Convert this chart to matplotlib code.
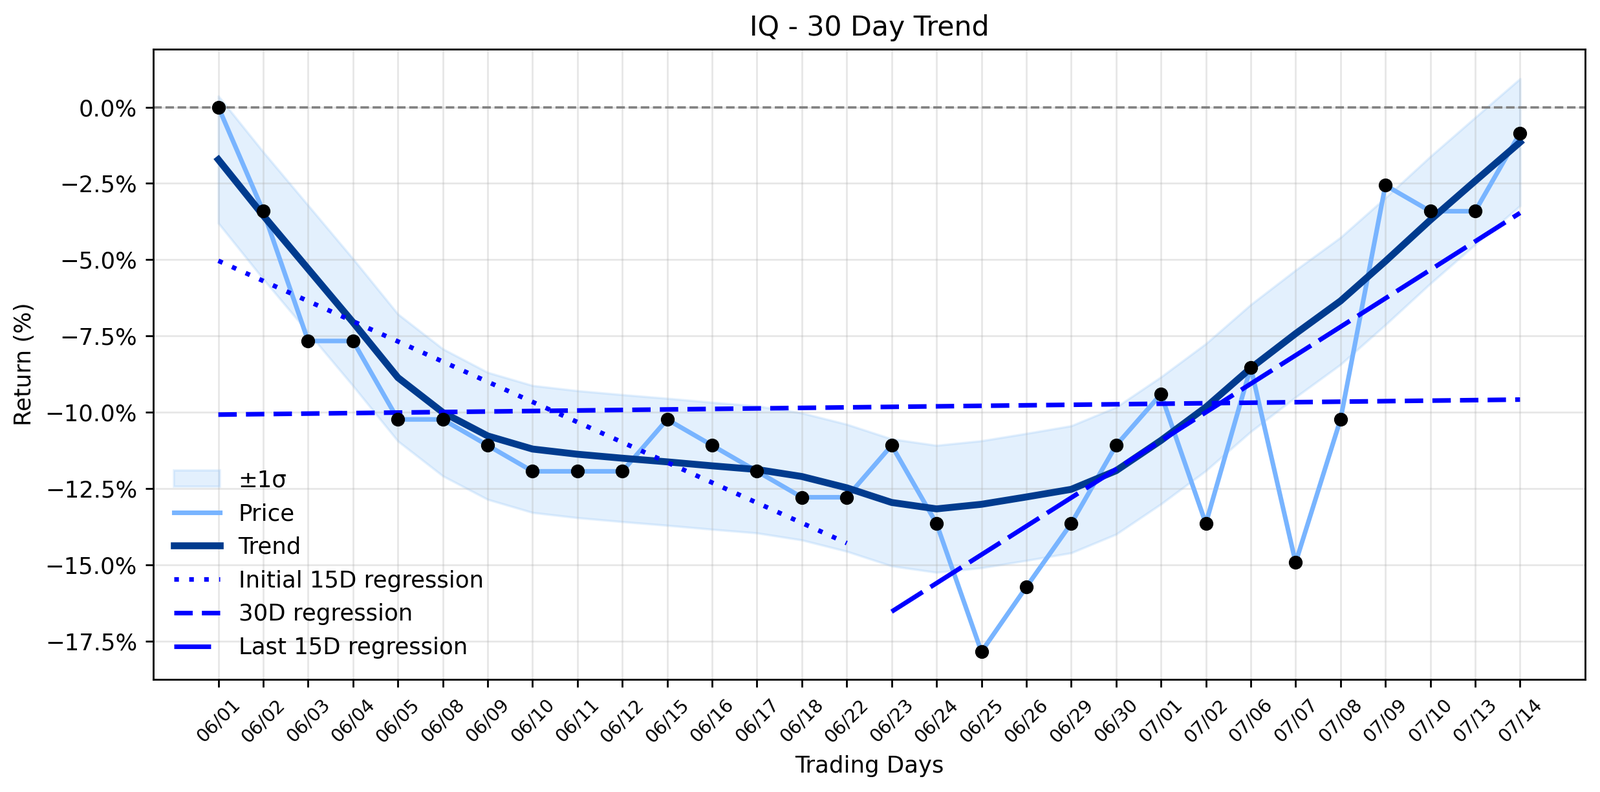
"""IQ - 30 day trend chart: price returns, smoothed trend, +/-1 sigma band
and three linear regressions (first 15 days, all 30 days, last 15 days)."""

import matplotlib
matplotlib.use("Agg")
import matplotlib.pyplot as plt
import numpy as np
from matplotlib.ticker import PercentFormatter

ticker = "IQ"

dates = ["06/01", "06/02", "06/03", "06/04", "06/05", "06/08", "06/09", "06/10",
         "06/11", "06/12", "06/15", "06/16", "06/17", "06/18", "06/22", "06/23",
         "06/24", "06/25", "06/26", "06/29", "06/30", "07/01", "07/02", "07/06",
         "07/07", "07/08", "07/09", "07/10", "07/13", "07/14"]

# cumulative return (%)
price_ret = [0.0, -3.41, -7.66, -7.66, -10.23, -10.23, -11.08, -11.93,
             -11.93, -11.93, -10.23, -11.08, -11.93, -12.78, -12.78, -11.08,
             -13.64, -17.84, -15.72, -13.64, -11.08, -9.40, -13.64, -8.52,
             -14.92, -10.23, -2.56, -3.41, -3.41, -0.85]

# smoothed trend (%)
trend_ret = [-1.72, -3.55, -5.30, -7.05, -8.86, -10.00, -10.77, -11.20,
             -11.37, -11.50, -11.62, -11.75, -11.87, -12.10, -12.47, -12.95,
             -13.16, -13.01, -12.77, -12.52, -11.91, -10.92, -9.83, -8.55,
             -7.42, -6.35, -5.05, -3.70, -2.42, -1.15]

# residual std used for the band (%)
band_sigma = 2.08

DPI = 256


def main():
    x = np.arange(len(dates))
    price = np.array(price_ret)
    trend = np.array(trend_ret)

    fig, ax = plt.subplots(figsize=(2474 / DPI, 1224 / DPI), dpi=DPI)
    fig.subplots_adjust(left=0.0958, right=0.9907, top=0.938, bottom=0.142)

    ax.fill_between(x, trend - band_sigma, trend + band_sigma,
                    color="#90c4f9", alpha=0.25, linewidth=1, label="±1σ")
    ax.plot(x, price, color="#78b4ff", linewidth=2, label="Price", zorder=3)
    ax.plot(x, trend, color="#003b8e", linewidth=3, label="Trend", zorder=4)
    ax.plot(x, price, "o", color="black", markersize=5, zorder=6)

    # ---- regressions ----
    half = len(x) // 2
    x1, x2 = x[:half], x[half:]
    k, b = np.polyfit(x1, price[:half], 1)
    ax.plot(x1, k * x1 + b, color="blue", linewidth=2,
            linestyle=(0, (1, 2.25)), label="Initial 15D regression", zorder=5)
    k, b = np.polyfit(x, price, 1)
    ax.plot(x, k * x + b, color="blue", linewidth=2,
            linestyle=(0, (4, 2)), label="30D regression", zorder=5)
    k, b = np.polyfit(x2, price[half:], 1)
    ax.plot(x2, k * x2 + b, color="blue", linewidth=2,
            linestyle=(0, (8, 2)), label="Last 15D regression", zorder=5)

    ax.axhline(0, color="gray", linestyle="--", linewidth=1, zorder=2)

    ax.set_xticks(x)
    ax.set_xticklabels(dates, rotation=45, fontsize=8)
    ax.set_xlim(-1.45, len(x) - 1 + 1.45)
    ax.set_ylim(-18.75, 1.9)
    ax.yaxis.set_major_formatter(PercentFormatter(xmax=100, decimals=1))
    ax.grid(True, alpha=0.3)

    ax.set_title(f"{ticker} - 30 Day Trend", fontsize=12)
    ax.set_xlabel("Trading Days")
    ax.set_ylabel("Return (%)")
    ax.legend(loc="lower left", frameon=False)

    fig.savefig("out.png", dpi=DPI)
    plt.close(fig)


if __name__ == "__main__":
    main()
